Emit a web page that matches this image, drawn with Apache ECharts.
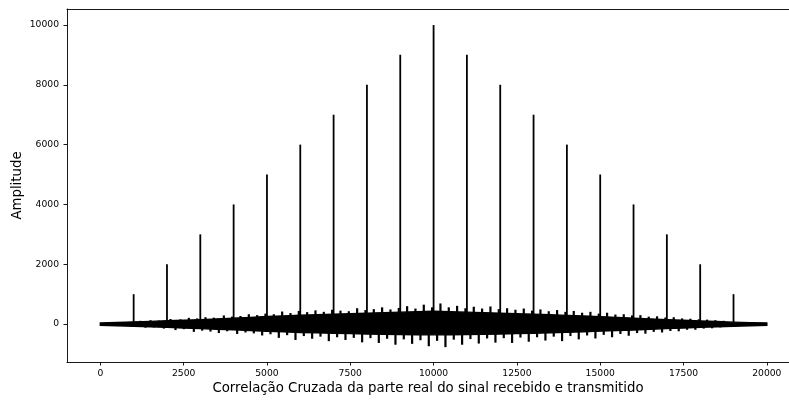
<!DOCTYPE html>
<html>
<head>
<meta charset="utf-8">
<script src="https://cdn.jsdelivr.net/npm/echarts@6/dist/echarts.min.js"></script>
<style>html,body{margin:0;padding:0;background:#fff}#c{width:789px;height:400px}</style>
</head>
<body>
<div id="c"></div>
<script>
// Main spikes: lag positions and heights
var spikeLags = [1000,2000,3000,4000,5000,6000,7000,8000,9000,10000,11000,12000,13000,14000,15000,16000,17000,18000,19000];
var spikeHeights = [1000,2000,3000,4000,5000,6000,7000,8000,9000,10000,9000,8000,7000,6000,5000,4000,3000,2000,1000];
// Solid noise band envelope, read every 500 lags from 0 to 20000
var bandStep = 500;
var bandUpper = [40,55,75,90,110,130,150,175,200,225,255,275,295,315,335,350,365,385,400,415,
  430,415,400,385,365,350,330,310,290,270,250,225,200,175,150,130,105,85,65,50,40];
var bandLower = [-40,-55,-75,-90,-110,-130,-150,-170,-190,-215,-240,-260,-280,-295,-310,-320,-330,-340,-350,-355,
  -360,-355,-350,-340,-330,-320,-305,-290,-275,-255,-235,-215,-195,-175,-150,-130,-110,-90,-70,-55,-40];
// Narrow noise peaks sticking out of the band
var peakUpLags = [1200,1500,1750,2100,2400,2650,2900,3150,3400,3700,3950,4200,4450,4700,4950,5200,5450,5700,5950,6200,6450,6700,6950,7200,7450,7700,7950,8200,8450,8700,8950,9200,9450,9700,9950,10200,10450,10700,10950,11200,11450,11700,11950,12200,12450,12700,12950,13200,13450,13700,13950,14200,14450,14700,14950,15200,15450,15700,15950,16200,16450,16700,16950,17200,17450,17700,17950,18200,18450,18700];
var peakUpValues = [110,130,115,170,160,210,190,230,215,290,250,270,330,300,350,330,420,370,440,400,460,410,480,450,430,530,470,500,560,490,540,600,520,650,560,690,560,610,530,580,520,590,500,530,480,520,450,490,430,470,410,440,380,410,350,380,320,330,290,300,250,260,220,230,190,180,160,150,130,110];
var peakDownLags = [1350,1600,1900,2250,2500,2800,3050,3300,3550,3800,4100,4350,4600,4850,5100,5350,5600,5850,6100,6350,6600,6850,7100,7350,7600,7850,8100,8350,8600,8850,9100,9350,9600,9850,10100,10350,10600,10850,11100,11350,11600,11850,12100,12350,12600,12850,13100,13350,13600,13850,14100,14350,14600,14850,15100,15350,15600,15850,16100,16350,16600,16850,17100,17350,17600,17850,18100,18350,18600];
var peakDownValues = [-120,-110,-150,-200,-170,-260,-220,-250,-300,-240,-330,-280,-310,-380,-340,-460,-370,-530,-400,-490,-420,-570,-440,-530,-460,-610,-470,-630,-490,-690,-510,-660,-540,-740,-560,-770,-520,-690,-500,-650,-480,-620,-470,-630,-450,-590,-440,-550,-420,-570,-400,-510,-380,-480,-360,-440,-330,-390,-300,-320,-260,-280,-230,-240,-190,-190,-150,-140,-110];
var xTicks = [0,2500,5000,7500,10000,12500,15000,17500,20000];
var yTicks = [0,2000,4000,6000,8000,10000];
var xLabel = 'Correlação Cruzada da parte real do sinal recebido e transmitido';
var yLabel = 'Amplitude';

var chart = echarts.init(document.getElementById('c'), null, {renderer:'canvas'});
var font = 'DejaVu Sans';
var plain = function (v) { return String(v); };
function pairs(xs, ys) { return xs.map(function (x, i) { return [x, ys[i]]; }); }
chart.setOption({
  animation: false,
  backgroundColor: '#fff',
  grid: {left: 67, top: 9, bottom: 37, right: 0},
  xAxis: [{
    type: 'value', min: -1000, max: 20665,
    splitLine: {show: false},
    axisLine: {show: true, onZero: false, lineStyle: {color: '#000', width: 0.9}},
    axisTick: {show: true, customValues: xTicks, length: 3.5, lineStyle: {color: '#000', width: 0.9}},
    axisLabel: {customValues: xTicks, formatter: plain, color: '#000', fontFamily: font, fontSize: 9.2, margin: 7},
    name: xLabel, nameLocation: 'middle', nameGap: 20, nameMoveOverlap: false,
    nameTextStyle: {color: '#000', fontFamily: font, fontSize: 13.3}
  }, {
    type: 'value', position: 'top', min: -1000, max: 20665,
    splitLine: {show: false}, axisTick: {show: false}, axisLabel: {show: false},
    axisLine: {show: true, onZero: false, lineStyle: {color: '#000', width: 0.9}}
  }],
  yAxis: {
    type: 'value', min: -1267, max: 10533,
    splitLine: {show: false},
    axisLine: {show: true, onZero: false, lineStyle: {color: '#000', width: 0.9}},
    axisTick: {show: true, customValues: yTicks, length: 3.5, lineStyle: {color: '#000', width: 0.9}},
    axisLabel: {customValues: yTicks, formatter: plain, color: '#000', fontFamily: font, fontSize: 9.2, margin: 8},
    name: yLabel, nameLocation: 'middle', nameGap: 43, nameMoveOverlap: false,
    nameTextStyle: {color: '#000', fontFamily: font, fontSize: 13.3}
  },
  series: [
    {
      type: 'custom', clip: true, silent: true,
      data: [[0, 0]],
      renderItem: function (params, api) {
        var pts = [];
        for (var i = 0; i < bandUpper.length; i++) pts.push(api.coord([i * bandStep, bandUpper[i]]));
        for (var j = bandLower.length - 1; j >= 0; j--) pts.push(api.coord([j * bandStep, bandLower[j]]));
        return {type: 'polygon', shape: {points: pts}, style: {fill: '#000', stroke: '#000', lineWidth: 1.4}};
      }
    },
    {type: 'bar', barWidth: 2.2, barGap: '-100%', silent: true, itemStyle: {color: '#000'}, data: pairs(peakUpLags, peakUpValues)},
    {type: 'bar', barWidth: 2.2, barGap: '-100%', silent: true, itemStyle: {color: '#000'}, data: pairs(peakDownLags, peakDownValues)},
    {type: 'bar', barWidth: 1.8, barGap: '-100%', silent: true, itemStyle: {color: '#000'}, data: pairs(spikeLags, spikeHeights)}
  ]
});
</script>
</body>
</html>
